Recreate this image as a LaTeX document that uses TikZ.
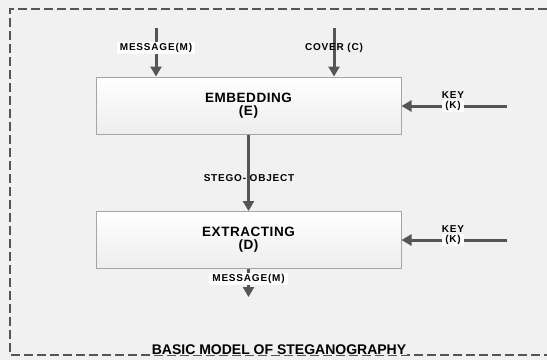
\documentclass[tikz,border=0pt]{standalone}
\usepackage{fontspec}
\setmainfont{Liberation Sans}
\usepackage{xcolor}
\usepackage{tikz}
\usetikzlibrary{arrows.meta}
\usetikzlibrary{positioning}
\definecolor{bgcol}{RGB}{241,241,241}
\definecolor{arrcol}{RGB}{85,85,85}
\definecolor{boxline}{RGB}{165,165,165}

\begin{document}
\begin{tikzpicture}[x=1pt, y=-1pt,
	block/.style={draw=boxline, line width=1pt, top color=white, bottom color=black!7, minimum width=305pt, minimum height=57pt, align=center, font=\fontsize{13.5}{13}\selectfont\bfseries\addfontfeature{LetterSpace=4}},
	flow/.style={draw=arrcol, line width=3pt, -{Triangle[length=10pt, width=11pt]}},
	small/.style={font=\fontsize{10}{11}\selectfont\bfseries\addfontfeature{LetterSpace=8}, inner sep=1pt},
	patch/.style={small, fill=white, inner xsep=3pt}]
	\fill[bgcol] (0,0) rectangle (547,360);
	\useasboundingbox (0,0) rectangle (547,360);
	\draw[arrcol, line width=2pt, dash pattern=on 9pt off 4pt] (547,9) -- (10,9) -- (10,355) -- (547,355);
	\node[block] (Embedding) at (248.5,105.5) {EMBEDDING\\(E)};
	\node[block] (Extracting) at (248.5,240) {EXTRACTING\\(D)};
	\coordinate (MessageIn) at (156,28);
	\coordinate (CoverIn) at (334,28);
	\coordinate (KeyInE) at (507,106);
	\coordinate (KeyInD) at (507,240);
	\coordinate (MessageOut) at (248.5,297);
	\draw[flow] (MessageIn) -- (MessageIn |- Embedding.north);
	\draw[flow] (CoverIn) -- (CoverIn |- Embedding.north);
	\draw[flow] (KeyInE) -- (KeyInE -| Embedding.east);
	\draw[flow] (KeyInD) -- (KeyInD -| Extracting.east);
	\draw[flow] (Embedding) -- (Extracting);
	\draw[flow] (Extracting) -- (MessageOut);
	\node[patch] (MessageInLabel) at (156,48) {MESSAGE(M)};
	\node[small] (CoverLabel) at (334,48) {COVER (C)};
	\node[small] (KeyLabelE) at (453,95) {KEY};
	\node[patch] (KLabelE) at (453,106) {(K)};
	\node[small] (KeyLabelD) at (453,229) {KEY};
	\node[patch] (KLabelD) at (453,240) {(K)};
	\node[small] (StegoLabel) at (249,178) {STEGO- OBJECT};
	\node[patch] (MessageOutLabel) at (248.5,279) {MESSAGE(M)};
	\node[font=\fontsize{14}{15}\selectfont\bfseries, fill=bgcol, inner sep=1pt, anchor=base] (Title) at (279,354) {BASIC MODEL OF STEGANOGRAPHY};
\end{tikzpicture}
\end{document}
